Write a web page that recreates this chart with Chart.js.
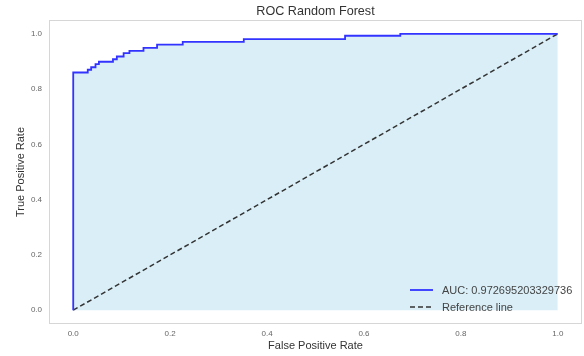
<!DOCTYPE html>
<html>
<head>
<meta charset="utf-8">
<script src="https://cdn.jsdelivr.net/npm/chart.js@4/dist/chart.umd.min.js"></script>
<style>
  body { margin: 0; background: #fff; }
  #wrap { width: 584px; height: 356px; }
</style>
</head>
<body>
<div id="wrap"><canvas id="roc" width="584" height="356"></canvas></div>
<script>
// ROC-kurve lest av bildet (hjørnepunkter i trappen)
const fpr = [0, 0, 0.030, 0.037, 0.046, 0.053, 0.082, 0.090, 0.104, 0.116, 0.145, 0.173, 0.226, 0.352, 0.561, 0.675, 1.0];
const tpr = [0, 0.86, 0.87, 0.879, 0.89, 0.899, 0.908, 0.918, 0.93, 0.938, 0.949, 0.961, 0.971, 0.981, 0.993, 1.0, 1.0];
const refX = [0, 1];
const refY = [0, 1];
const tickVals = [0, 0.2, 0.4, 0.6, 0.8, 1.0];
const aucLabel = 'AUC: 0.972695203329736';
const refLabel = 'Reference line';
const tittel = 'ROC Random Forest';

const font = "'Liberation Sans', Arial, sans-serif";

// grå ramme rundt plottet + tittel sentrert over plottet
const ramme = {
  id: 'ramme',
  beforeDatasetsDraw(chart) {
    const a = chart.chartArea, ctx = chart.ctx;
    ctx.save();
    ctx.strokeStyle = '#d6d6d6';
    ctx.lineWidth = 1;
    ctx.strokeRect(a.left + 0.5, a.top + 0.5, a.width - 1, a.height - 1);
    ctx.fillStyle = '#333';
    ctx.font = '12.6px ' + font;
    ctx.textAlign = 'center';
    ctx.textBaseline = 'alphabetic';
    ctx.fillText(tittel, (a.left + a.right) / 2, 15);
    ctx.restore();
  }
};

// legenden nede til høyre inne i plottet
const legende = {
  id: 'legende',
  afterDatasetsDraw(chart) {
    const a = chart.chartArea, ctx = chart.ctx;
    const x0 = a.right - 172, y0 = a.bottom - 34;
    ctx.save();
    chart.data.datasets.forEach((ds, i) => {
      const y = y0 + i * 17;
      ctx.strokeStyle = ds.borderColor;
      ctx.lineWidth = ds.borderWidth;
      ctx.setLineDash(ds.borderDash || []);
      ctx.beginPath();
      ctx.moveTo(x0, y);
      ctx.lineTo(x0 + 23, y);
      ctx.stroke();
      ctx.setLineDash([]);
      ctx.fillStyle = '#444';
      ctx.font = '11px ' + font;
      ctx.textBaseline = 'middle';
      ctx.fillText(ds.label, x0 + 32, y + 0.5);
    });
    ctx.restore();
  }
};

const ctx = document.getElementById('roc').getContext('2d');

new Chart(ctx, {
  type: 'line',
  data: {
    datasets: [{
      label: aucLabel,
      data: fpr.map((x, i) => ({ x: x, y: tpr[i] })),
      borderColor: '#3333ff',
      borderWidth: 1.8,
      backgroundColor: '#d9eef7',
      fill: 'origin',
      stepped: 'before',
      pointRadius: 0
    }, {
      label: refLabel,
      data: refX.map((x, i) => ({ x: x, y: refY[i] })),
      borderColor: '#333333',
      borderWidth: 1.5,
      borderDash: [5, 3],
      fill: false,
      pointRadius: 0
    }]
  },
  options: {
    responsive: false,
    animation: false,
    layout: { padding: { left: 0, right: 2, top: 20, bottom: 0 } },
    plugins: {
      legend: { display: false },
      tooltip: { enabled: false },
      filler: { drawTime: 'beforeDatasetsDraw' },
      title: { display: false }
    },
    scales: {
      x: {
        type: 'linear',
        min: -0.05,
        max: 1.05,
        afterBuildTicks: s => { s.ticks = tickVals.map(v => ({ value: v })); },
        afterFit: s => { s.height = 32; },
        grid: { display: false, drawTicks: false },
        border: { display: false },
        ticks: {
          padding: 5,
          color: '#666',
          font: { family: font, size: 8 },
          callback: v => v.toFixed(1)
        },
        title: {
          display: true,
          text: 'False Positive Rate',
          color: '#333',
          font: { family: font, size: 11 },
          padding: { top: 0, bottom: 3 }
        }
      },
      y: {
        min: -0.05,
        max: 1.05,
        afterBuildTicks: s => { s.ticks = tickVals.map(v => ({ value: v })); },
        afterFit: s => { s.width = 49; },
        grid: { display: false, drawTicks: false },
        border: { display: false },
        ticks: {
          padding: 7,
          color: '#666',
          font: { family: font, size: 8 },
          callback: v => v.toFixed(1)
        },
        title: {
          display: true,
          text: 'True Positive Rate',
          color: '#333',
          font: { family: font, size: 11 },
          padding: { top: 14, bottom: 0 }
        }
      }
    }
  },
  plugins: [ramme, legende]
});
</script>
</body>
</html>
